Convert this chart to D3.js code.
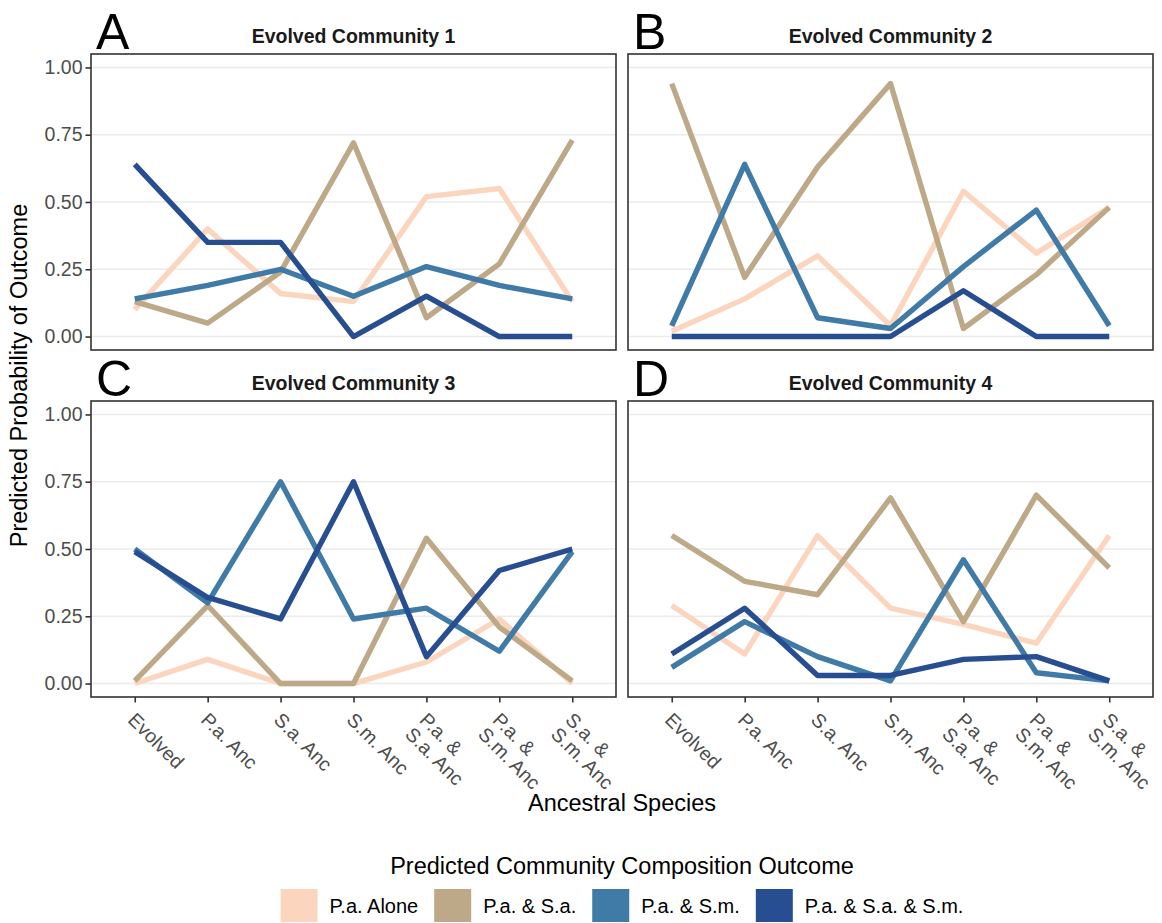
<!DOCTYPE html>
<html>
<head>
<meta charset="utf-8">
<script src="https://cdn.jsdelivr.net/npm/d3@7"></script>
<style>
  body { margin: 0; background: #fff; }
  svg { display: block; font-family: "Liberation Sans", Arial, sans-serif; }
</style>
</head>
<body>
<svg id="chart"></svg>
<script>
// ancestral species on the x axis (\n = line break in the tick label)
const categories = ["Evolved", "P.a. Anc", "S.a. Anc", "S.m. Anc",
    "P.a. &\nS.a. Anc", "P.a. &\nS.m. Anc", "S.a. &\nS.m. Anc"];

const outcomes = ["P.a. Alone", "P.a. & S.a.", "P.a. & S.m.", "P.a. & S.a. & S.m."];
const outcomeColors = ["#FCD5BF", "#BDA888", "#3F7BA6", "#274E90"];

const panelTitles = ["Evolved Community 1", "Evolved Community 2", "Evolved Community 3", "Evolved Community 4"];
const panelLetters = ["A", "B", "C", "D"];

// one row per outcome, in the order of `outcomes`
const community1 = [
    [0.10, 0.40, 0.16, 0.13, 0.52, 0.55, 0.13],
    [0.13, 0.05, 0.24, 0.72, 0.07, 0.27, 0.73],
    [0.14, 0.19, 0.25, 0.15, 0.26, 0.19, 0.14],
    [0.64, 0.35, 0.35, 0.00, 0.15, 0.00, 0.00]
];
const community2 = [
    [0.02, 0.14, 0.30, 0.04, 0.54, 0.31, 0.48],
    [0.94, 0.22, 0.63, 0.94, 0.03, 0.23, 0.48],
    [0.04, 0.64, 0.07, 0.03, 0.26, 0.47, 0.04],
    [0.00, 0.00, 0.00, 0.00, 0.17, 0.00, 0.00]
];
const community3 = [
    [0.00, 0.09, 0.00, 0.00, 0.08, 0.24, 0.00],
    [0.01, 0.29, 0.00, 0.00, 0.54, 0.21, 0.01],
    [0.50, 0.30, 0.75, 0.24, 0.28, 0.12, 0.49],
    [0.49, 0.32, 0.24, 0.75, 0.10, 0.42, 0.50]
];
const community4 = [
    [0.29, 0.11, 0.55, 0.28, 0.22, 0.15, 0.55],
    [0.55, 0.38, 0.33, 0.69, 0.23, 0.70, 0.43],
    [0.06, 0.23, 0.10, 0.01, 0.46, 0.04, 0.01],
    [0.11, 0.28, 0.03, 0.03, 0.09, 0.10, 0.01]
];
const yTicks = [0, 0.25, 0.5, 0.75, 1];

var drawChart = function(svgSelector) {
    let width = 1162,
        height = 923,
        colX = [91, 628],
        rowY = [54, 401],
        pw = 525,
        ph = 296,
        tickFont = 19.5,
        titleFont = 23.5,
        communities = [community1, community2, community3, community4];

    let svg = d3.select(svgSelector)
        .attr("width", width)
        .attr("height", height)
        .attr("viewBox", [0, 0, width, height].join(" "));

    let x = d3.scalePoint().domain(categories).range([0, pw]).padding(0.6),
        y = d3.scaleLinear().domain([-0.05, 1.05]).range([ph, 0]);

    let line = d3.line()
        .x((d, i) => x(categories[i]))
        .y((d) => y(d));

    communities.forEach((comm, p) => {
        let col = p % 2,
            row = Math.floor(p / 2),
            g = svg.append("g")
                .attr("transform", `translate(${colX[col]},${rowY[row]})`);

        // horizontal grid only
        g.append("g")
            .selectAll("line")
            .data(yTicks)
            .enter()
            .append("line")
            .attr("x1", 0)
            .attr("x2", pw)
            .attr("y1", (d) => y(d))
            .attr("y2", (d) => y(d))
            .attr("stroke", "#EBEBEB")
            .attr("stroke-width", 1.6);

        // outcome lines
        g.append("g")
            .selectAll("path")
            .data(comm)
            .enter()
            .append("path")
            .attr("d", (d) => line(d))
            .attr("fill", "none")
            .attr("stroke", (d, i) => outcomeColors[i])
            .attr("stroke-width", 5.4)
            .attr("stroke-linejoin", "round")
            .attr("stroke-linecap", "butt");

        // panel border
        g.append("rect")
            .attr("width", pw)
            .attr("height", ph)
            .attr("fill", "none")
            .attr("stroke", "#333333")
            .attr("stroke-width", 1.6);

        // strip title
        g.append("text")
            .attr("x", pw / 2)
            .attr("y", -11)
            .attr("text-anchor", "middle")
            .attr("font-size", 19.5)
            .attr("font-weight", "bold")
            .attr("fill", "#1A1A1A")
            .text(panelTitles[p]);

        // panel letter
        g.append("text")
            .attr("x", 5)
            .attr("y", -5)
            .attr("font-size", 50)
            .attr("fill", "#000")
            .text(panelLetters[p]);

        if (col === 0) {
            let ya = g.append("g")
                .call(d3.axisLeft(y).tickValues(yTicks).tickFormat(d3.format(".2f"))
                    .tickSize(5.5).tickPadding(3));
            ya.select(".domain").remove();
            ya.selectAll(".tick line").attr("stroke", "#333333").attr("stroke-width", 1.6);
            ya.selectAll(".tick text")
                .attr("font-size", tickFont)
                .attr("font-family", "Liberation Sans, Arial, sans-serif")
                .attr("fill", "#4D4D4D");
        }

        if (row === 1) {
            let xa = g.append("g")
                .attr("transform", `translate(0,${ph})`)
                .call(d3.axisBottom(x).tickSize(5.5).tickFormat(""));
            xa.select(".domain").remove();
            xa.selectAll(".tick line").attr("stroke", "#333333").attr("stroke-width", 1.6);

            // angled, multi-line tick labels
            let labels = g.append("g")
                .selectAll("text")
                .data(categories)
                .enter()
                .append("text")
                .attr("transform", (d) => `translate(${x(d) + 2},${ph + 14}) rotate(45)`)
                .attr("font-size", tickFont)
                .attr("fill", "#4D4D4D");
            labels.each(function(d) {
                let t = d3.select(this);
                d.split("\n").forEach((part, k) => {
                    t.append("tspan")
                        .attr("x", 0)
                        .attr("dy", k === 0 ? "0.72em" : "1.05em")
                        .text(part);
                });
            });
        }
    });

    let midX = (colX[0] + colX[1] + pw) / 2;

    // axis titles
    svg.append("text")
        .attr("x", midX)
        .attr("y", 811)
        .attr("text-anchor", "middle")
        .attr("font-size", titleFont)
        .attr("fill", "#000")
        .text("Ancestral Species");

    svg.append("text")
        .attr("transform", `translate(27,${(rowY[0] + rowY[1] + ph) / 2}) rotate(-90)`)
        .attr("text-anchor", "middle")
        .attr("font-size", titleFont)
        .attr("fill", "#000")
        .text("Predicted Probability of Outcome");

    // legend
    svg.append("text")
        .attr("x", midX)
        .attr("y", 874)
        .attr("text-anchor", "middle")
        .attr("font-size", titleFont)
        .attr("fill", "#000")
        .text("Predicted Community Composition Outcome");

    let keySize = 37,
        legend = svg.append("g"),
        items = legend.selectAll("g")
            .data(outcomes)
            .enter()
            .append("g");

    items.append("rect")
        .attr("width", keySize)
        .attr("height", 33)
        .attr("fill", (d, i) => outcomeColors[i]);

    items.append("text")
        .attr("x", keySize + 12)
        .attr("y", 24)
        .attr("font-size", 20)
        .attr("fill", "#000")
        .text((d) => d);

    // lay out keys one after another and center the row
    let offset = 0,
        positions = [];
    items.each(function() {
        positions.push(offset);
        offset += this.getBBox().width + 16;
    });
    let total = offset - 16;
    items.attr("transform", (d, i) => `translate(${positions[i]},0)`);
    legend.attr("transform", `translate(${midX - total / 2},889)`);
};

drawChart("#chart");
</script>
</body>
</html>
